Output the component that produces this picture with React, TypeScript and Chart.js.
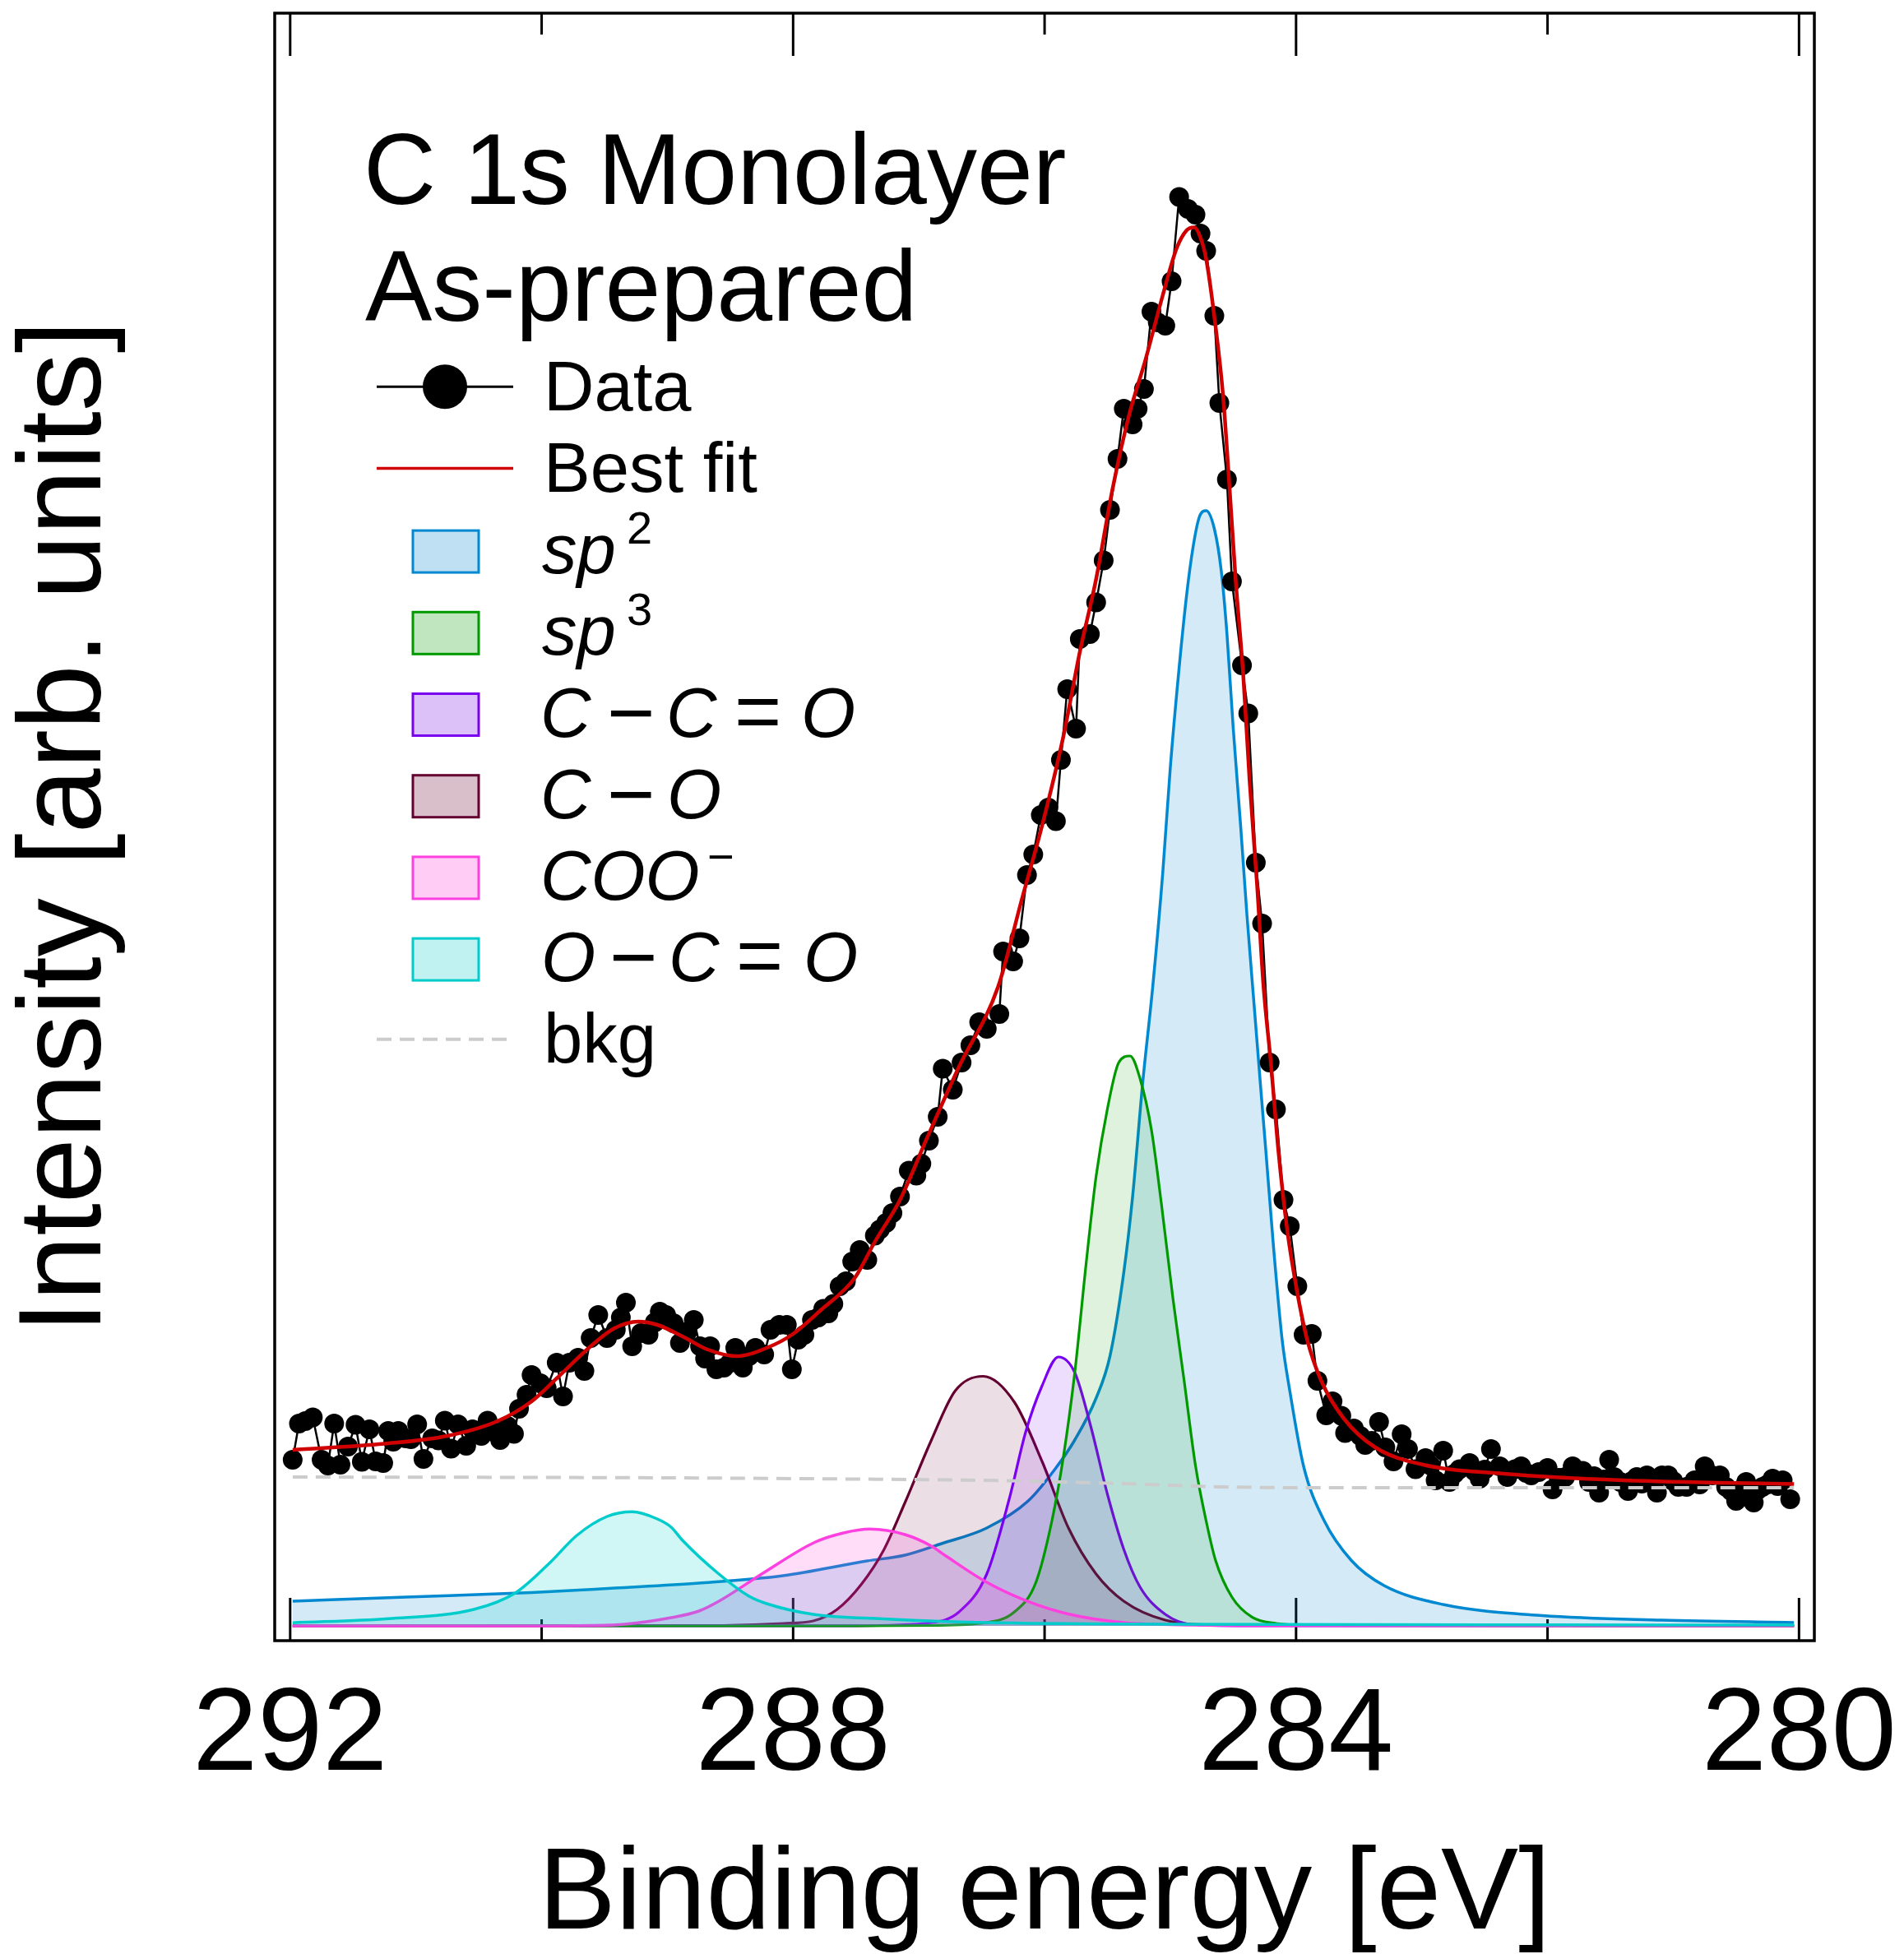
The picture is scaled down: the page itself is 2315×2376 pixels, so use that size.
import React, { useEffect, useRef } from 'react';
import { Chart, registerables } from 'chart.js';

Chart.register(...registerables);

const W = 2315;
const H = 2376;
const FONT = '"Liberation Sans", Arial, Helvetica, sans-serif';

// ---------- axes ----------
const X_TICKS = [280, 284, 288, 292];
const X_MINOR = [282, 286, 290];
const X_MIN = 279.878;
const X_MAX = 292.123;
const Y_MIN = -1.8;
const Y_MAX = 196.1;
const X_TITLE = 'Binding energy [eV]';
const Y_TITLE = 'Intensity [arb. units]';
const TITLE_LINES = ['C 1s Monolayer', 'As-prepared'];

// ---------- measured data (binding energy, intensity) ----------
const DATA_E = [
  291.98, 291.93, 291.88, 291.82, 291.75, 291.70, 291.65, 291.60, 291.54, 291.48,
  291.43, 291.37, 291.32, 291.26, 291.22, 291.18, 291.14, 291.08, 291.04, 290.99,
  290.94, 290.87, 290.82, 290.77, 290.72, 290.665, 290.60, 290.55, 290.48, 290.43,
  290.38, 290.33, 290.27, 290.22, 290.18, 290.12, 290.08, 290.01, 289.96, 289.88,
  289.83, 289.78, 289.71, 289.66, 289.61, 289.55, 289.48, 289.41, 289.37, 289.33,
  289.28, 289.21, 289.15, 289.10, 289.06, 289.01, 288.95, 288.90, 288.84, 288.79,
  288.74, 288.70, 288.66, 288.61, 288.55, 288.50, 288.46, 288.40, 288.35, 288.30,
  288.23, 288.18, 288.11, 288.05, 288.01, 287.96, 287.91, 287.85, 287.80, 287.76,
  287.72, 287.68, 287.63, 287.58, 287.53, 287.47, 287.41, 287.35, 287.31, 287.26,
  287.21, 287.15, 287.08, 287.02, 286.98, 286.92, 286.85, 286.81, 286.73, 286.66,
  286.59, 286.52, 286.46, 286.36, 286.33, 286.25, 286.20, 286.14, 286.09, 286.03,
  285.97, 285.91, 285.87, 285.82, 285.75, 285.72, 285.64, 285.59, 285.53, 285.48,
  285.42, 285.37, 285.30, 285.26, 285.21, 285.15, 285.10, 285.04, 284.99, 284.93,
  284.86, 284.80, 284.76, 284.715, 284.65, 284.61, 284.55, 284.51, 284.43, 284.38,
  284.32, 284.27, 284.21, 284.16, 284.10, 284.05, 283.99, 283.94, 283.875, 283.83,
  283.76, 283.71, 283.64, 283.61, 283.54, 283.49, 283.45, 283.40, 283.34, 283.29,
  283.225, 283.16, 283.11, 283.05, 282.97, 282.93, 282.89, 282.83, 282.78, 282.74,
  282.70, 282.62, 282.58, 282.54, 282.50, 282.45, 282.38, 282.32, 282.26, 282.21,
  282.17, 282.13, 282.07, 282.00, 281.96, 281.91, 281.86, 281.80, 281.72, 281.67,
  281.63, 281.59, 281.55, 281.51, 281.47, 281.42, 281.36, 281.33, 281.29, 281.25,
  281.21, 281.17, 281.13, 281.09, 281.04, 281.00, 280.96, 280.895, 280.83, 280.79,
  280.75, 280.69, 280.63, 280.58, 280.54, 280.50, 280.46, 280.42, 280.36, 280.33,
  280.29, 280.25, 280.21, 280.17, 280.13, 280.07,
];
const DATA_I = [
  20.2, 24.6, 24.9, 25.35, 20.2, 19.5, 24.6, 19.6, 21.8, 24.45,
  19.95, 23.9, 20.0, 19.8, 23.7, 22.4, 23.7, 22.8, 22.7, 24.5,
  20.3, 22.8, 22.55, 24.95, 21.55, 24.5, 21.9, 23.9, 23.1, 24.95,
  23.6, 22.6, 24.3, 23.35, 26.4, 28.1, 30.5, 29.5, 28.9, 32.0,
  27.9, 32.0, 32.6, 31.0, 35.0, 37.8, 35.0, 36.0, 37.5, 39.3,
  34.0, 35.6, 35.4, 36.9, 38.2, 37.8, 36.8, 34.4, 35.8, 37.2,
  34.0, 32.5, 34.0, 31.2, 31.4, 32.0, 33.8, 31.4, 32.8, 33.8,
  33.0, 36.0, 36.6, 36.6, 31.2, 34.8, 35.4, 37.2, 37.5, 38.55,
  38.0, 39.15, 41.3, 41.9, 44.3, 45.7, 44.5, 47.45, 48.2, 49.0,
  50.2, 52.2, 55.35, 54.75, 56.2, 59.0, 61.9, 67.75, 65.2, 68.5,
  70.6, 73.4, 72.6, 74.4, 82.0, 80.8, 83.6, 91.3, 93.8, 98.6,
  99.5, 97.85, 105.3, 113.9, 109.1, 120.0, 120.6, 124.45, 129.55, 135.7,
  141.9, 148.0, 146.1, 148.0, 150.4, 159.8, 158.5, 158.1, 163.5, 173.75,
  172.3, 171.6, 169.3, 167.2, 159.3, 148.7, 139.4, 127.0, 116.8, 110.95,
  92.8, 85.4, 68.5, 62.8, 51.8, 48.6, 41.3, 35.4, 35.5, 29.8,
  25.6, 27.3, 25.55, 23.45, 24.0, 23.1, 22.0, 22.5, 24.8, 21.7,
  20.0, 23.3, 21.5, 19.05, 20.4, 19.5, 17.7, 21.3, 17.5, 18.5,
  19.05, 19.8, 18.8, 17.9, 19.0, 21.5, 19.4, 18.1, 19.05, 19.4,
  18.6, 18.3, 18.7, 19.2, 16.6, 18.0, 18.1, 19.4, 18.85, 17.5,
  18.2, 16.2, 17.8, 20.2, 18.1, 17.5, 16.4, 17.6, 18.1, 17.3,
  18.3, 17.5, 16.2, 18.3, 18.3, 17.6, 16.9, 16.9, 17.7, 17.2,
  19.4, 18.3, 18.3, 16.9, 16.4, 15.2, 15.8, 17.5, 15.0, 16.5,
  16.9, 17.2, 17.9, 17.0, 17.7, 15.4,
];

// ---------- best fit ----------
const FIT_E = [
  291.98, 291.25, 290.75, 290.35, 290.08, 289.88, 289.61, 289.42, 289.23, 289.08,
  288.88, 288.68, 288.45, 288.21, 288.01, 287.78, 287.51, 287.35, 287.15, 286.93,
  286.68, 286.37, 286.18, 286.02, 285.85, 285.72, 285.59, 285.46, 285.33, 285.195,
  285.06, 284.95, 284.87, 284.81, 284.76, 284.715, 284.65, 284.58, 284.53, 284.48,
  284.42, 284.37, 284.31, 284.26, 284.20, 284.14, 284.07, 283.99, 283.91, 283.80,
  283.62, 283.37, 282.99, 282.35, 281.40, 280.04,
];
const FIT_I = [
  21.4, 22.15, 23.1, 24.9, 27.3, 30.1, 34.0, 36.2, 37.0, 36.6,
  35.2, 33.6, 32.8, 33.8, 35.4, 38.4, 42.3, 46.7, 51.8, 59.5,
  68.0, 77.7, 88.4, 97.3, 108.2, 118.4, 127.3, 138.2, 147.1, 154.1,
  161.8, 167.5, 169.7, 170.05, 168.8, 166.2, 159.2, 149.5, 138.6, 127.1,
  115.6, 102.9, 90.1, 78.0, 68.4, 57.7, 48.1, 40.5, 34.7, 29.8,
  25.2, 21.7, 19.6, 18.5, 17.7, 17.25,
];

// ---------- background ----------
const BKG_E = [291.98, 289.0, 287.5, 286.5, 286.0, 285.5, 285.0, 284.6, 284.2, 283.6, 280.04];
const BKG_I = [18.1, 18.0, 17.85, 17.7, 17.55, 17.35, 17.1, 16.9, 16.82, 16.8, 16.8];

// ---------- components ----------
const SP2_E = [
  291.98, 291.08, 290.08, 289.42, 288.75, 288.08, 287.41, 287.11, 286.82, 286.46,
  286.13, 285.92, 285.76, 285.59, 285.48, 285.37, 285.30, 285.22, 285.14, 285.06,
  285.00, 284.93, 284.87, 284.82, 284.77, 284.715, 284.65, 284.595, 284.55, 284.50,
  284.44, 284.39, 284.33, 284.28, 284.24, 284.18, 284.11, 284.05, 283.94, 283.78,
  283.56, 283.30, 282.83, 282.04, 281.09, 280.04,
];
const SP2_I = [
  3.0, 3.5, 4.05, 4.6, 5.2, 6.1, 7.9, 8.6, 10.0, 11.9,
  15.2, 19.0, 22.6, 27.7, 32.8, 43.0, 52.2, 66.0, 77.7, 91.6,
  104.4, 116.5, 125.4, 131.1, 134.8, 135.6, 133.4, 128.3, 120.7, 109.2,
  97.1, 86.3, 74.8, 65.2, 57.7, 46.2, 34.7, 28.6, 19.4, 12.9,
  7.95, 4.9, 2.6, 1.25, 0.7, 0.4,
];
const SP3_E = [
  291.98, 287.5, 286.9, 286.46, 286.24, 286.07, 285.94, 285.85, 285.76, 285.67,
  285.59, 285.50, 285.41, 285.32, 285.24, 285.15, 285.07, 284.98, 284.89, 284.80,
  284.71, 284.64, 284.51, 284.35, 284.16, 283.8, 280.04,
];
const SP3_I = [
  0, 0, 0.05, 0.4, 1.7, 5.25, 12.9, 20.6, 30.8, 44.0,
  54.7, 62.9, 68.5, 69.3, 66.5, 60.3, 51.2, 39.9, 29.8, 19.5,
  12.4, 7.95, 3.5, 1.06, 0.3, 0.05, 0,
];
const CCO_E = [291.98, 287.5, 286.9, 286.68, 286.46, 286.28, 286.15, 286.02, 285.89, 285.76, 285.63, 285.50, 285.37, 285.24, 285.04, 284.82, 284.3, 280.04];
const CCO_I = [0, 0.02, 0.4, 1.7, 6.3, 15.5, 23.6, 29.2, 32.7, 30.8, 24.1, 16.0, 9.3, 4.7, 1.4, 0.15, 0, 0];
const CO_E = [291.98, 288.6, 288.08, 287.84, 287.65, 287.46, 287.28, 287.11, 286.90, 286.71, 286.49, 286.24, 286.02, 285.81, 285.59, 285.37, 285.04, 284.6, 280.04];
const CO_I = [0, 0.05, 0.3, 0.6, 2.0, 5.0, 9.2, 15.0, 22.6, 28.6, 30.35, 27.2, 20.0, 11.9, 6.3, 3.0, 0.7, 0.1, 0];
const COO_E = [291.98, 290.2, 289.6, 289.34, 288.97, 288.75, 288.59, 288.23, 287.83, 287.60, 287.39, 287.11, 286.90, 286.785, 286.46, 286.13, 285.80, 285.37, 284.8, 284.0, 280.04];
const COO_I = [0, 0, 0.05, 0.2, 1.0, 1.8, 3.0, 6.5, 10.15, 11.3, 11.77, 11.1, 9.7, 8.5, 5.3, 2.96, 1.4, 0.4, 0.1, 0.02, 0];
const OCO_E = [291.98, 291.22, 290.54, 290.21, 289.94, 289.72, 289.48, 289.28, 289.08, 288.97, 288.88, 288.59, 288.35, 288.21, 287.84, 287.28, 286.46, 285.0, 282.0, 280.04];
const OCO_I = [0.38, 0.87, 2.0, 4.0, 7.6, 11.0, 13.3, 13.87, 13.0, 12.0, 10.4, 6.3, 3.6, 2.7, 1.4, 0.85, 0.4, 0.2, 0.12, 0.1];

const COMPONENT_NAMES = ['sp2', 'sp3', 'C−C=O', 'C−O', 'COO−', 'O−C=O'];

// styles
const COMP_STYLE = [
  { line: '#0088d0', fill: 'rgba(0,136,208,0.17)', legend: '#bfe0f2', w: 3.5 },
  { line: '#009a00', fill: 'rgba(0,154,0,0.13)', legend: '#bfe6bf', w: 3.2 },
  { line: '#7a00f0', fill: 'rgba(122,0,240,0.13)', legend: '#dbc1f7', w: 3.2 },
  { line: '#640030', fill: 'rgba(100,0,48,0.13)', legend: '#d8bfc9', w: 3.2 },
  { line: '#ff40e0', fill: 'rgba(255,64,224,0.18)', legend: '#ffccf5', w: 3.5 },
  { line: '#00cccc', fill: 'rgba(0,204,204,0.18)', legend: '#bff2f0', w: 3.5 },
];
const COMP_SERIES = [
  [SP2_E, SP2_I], [SP3_E, SP3_I], [CCO_E, CCO_I], [CO_E, CO_I], [COO_E, COO_I], [OCO_E, OCO_I],
];

type Part = { t: string; it?: boolean; sup?: boolean; size?: number; dx?: number; dy?: number };
const LEGEND_PARTS: Part[][] = [
  [{ t: 'Data' }],
  [{ t: 'Best fit' }],
  [{ t: 'sp', it: true, dx: -2 }, { t: '2', sup: true, dx: 101, dy: -36 }],
  [{ t: 'sp', it: true, dx: -2 }, { t: '3', sup: true, dx: 101, dy: -36 }],
  [{ t: 'C', it: true, dx: -4 }, { t: '−', size: 100, dx: 77, dy: 5 }, { t: 'C', it: true, dx: 149 }, { t: '=', size: 98, dx: 232, dy: 3 }, { t: 'O', it: true, dx: 313 }],
  [{ t: 'C', it: true, dx: -4 }, { t: '−', size: 100, dx: 77, dy: 5 }, { t: 'O', it: true, dx: 150 }],
  [{ t: 'COO', it: true, dx: -4 }, { t: '−', sup: true, dx: 199, dy: -33 }],
  [{ t: 'O', it: true, dx: -3 }, { t: '−', size: 100, dx: 80, dy: 5 }, { t: 'C', it: true, dx: 152 }, { t: '=', size: 98, dx: 234, dy: 3 }, { t: 'O', it: true, dx: 316 }],
  [{ t: 'bkg' }],
];

const pts = (e: number[], v: number[]) => e.map((x, i) => ({ x, y: v[i] }));

const decorPlugin = {
  id: 'decor',
  beforeDatasetsDraw(chart: any) {
    const { ctx, chartArea: a, scales } = chart;
    const x = scales.x;
    ctx.save();
    ctx.strokeStyle = '#000';
    ctx.lineWidth = 3;
    const tick = (v: number, len: number) => {
      const px = x.getPixelForValue(v);
      ctx.beginPath();
      ctx.moveTo(px, a.bottom);
      ctx.lineTo(px, a.bottom - len);
      ctx.moveTo(px, a.top);
      ctx.lineTo(px, a.top + len);
      ctx.stroke();
    };
    X_TICKS.forEach((v) => tick(v, 52));
    X_MINOR.forEach((v) => tick(v, 26));
    ctx.restore();
  },
  afterDatasetsDraw(chart: any) {
    const { ctx, chartArea: a } = chart;
    ctx.save();
    ctx.strokeStyle = '#000';
    ctx.lineWidth = 3.5;
    ctx.strokeRect(a.left, a.top, a.right - a.left, a.bottom - a.top);
    ctx.restore();
  },
  afterDraw(chart: any) {
    const { ctx } = chart;
    ctx.save();
    ctx.fillStyle = '#000';
    ctx.textAlign = 'left';
    ctx.textBaseline = 'alphabetic';
    // title lines
    ctx.font = `122px ${FONT}`;
    ctx.fillText(TITLE_LINES[0], 442, 248);
    ctx.fillText(TITLE_LINES[1], 444, 390);

    const baseline0 = 498.7;
    const step = 99.2;
    const textX = 661;
    const lineX0 = 458;
    const lineX1 = 624;
    for (let i = 0; i < LEGEND_PARTS.length; i++) {
      const b = baseline0 + i * step;
      const cy = b - 28.5;
      if (i === 0) {
        ctx.strokeStyle = '#000';
        ctx.lineWidth = 3;
        ctx.beginPath();
        ctx.moveTo(lineX0, cy);
        ctx.lineTo(lineX1, cy);
        ctx.stroke();
        ctx.beginPath();
        ctx.arc(541, cy, 27, 0, Math.PI * 2);
        ctx.fillStyle = '#000';
        ctx.fill();
      } else if (i === 1) {
        ctx.strokeStyle = '#d00000';
        ctx.lineWidth = 3.5;
        ctx.beginPath();
        ctx.moveTo(lineX0, cy);
        ctx.lineTo(lineX1, cy);
        ctx.stroke();
      } else if (i === LEGEND_PARTS.length - 1) {
        ctx.strokeStyle = '#cccccc';
        ctx.lineWidth = 4;
        ctx.setLineDash([18, 10]);
        ctx.beginPath();
        ctx.moveTo(lineX0, cy);
        ctx.lineTo(lineX1, cy);
        ctx.stroke();
        ctx.setLineDash([]);
      } else {
        const st = COMP_STYLE[i - 2];
        ctx.fillStyle = st.legend;
        ctx.fillRect(502, b - 52, 80, 51);
        ctx.strokeStyle = st.line;
        ctx.lineWidth = 3;
        ctx.strokeRect(502, b - 52, 80, 51);
      }
      ctx.fillStyle = '#000';
      for (const p of LEGEND_PARTS[i]) {
        const size = p.size || (p.sup ? 56 : 85);
        ctx.font = `${p.it ? 'italic ' : ''}${size}px ${FONT}`;
        ctx.fillText(p.t, textX + (p.dx || 0), b + (p.dy || 0));
      }
    }
    ctx.restore();
  },
};

export default function App() {
  const ref = useRef<HTMLCanvasElement>(null);
  useEffect(() => {
    document.body.style.margin = '0';
    const canvas = ref.current;
    if (!canvas) return;
    Chart.defaults.font.family = FONT;
    const compOrder = [5, 4, 1, 2, 3, 0]; // top-most first
    const compDatasets = compOrder.map((k) => ({
      label: COMPONENT_NAMES[k],
      data: pts(COMP_SERIES[k][0], COMP_SERIES[k][1]),
      borderColor: COMP_STYLE[k].line,
      backgroundColor: COMP_STYLE[k].fill,
      borderWidth: COMP_STYLE[k].w,
      pointRadius: 0,
      fill: 'origin',
      cubicInterpolationMode: 'monotone' as const,
    }));
    const chart = new Chart(canvas, {
      type: 'line',
      data: {
        datasets: [
          {
            label: 'Best fit',
            data: pts(FIT_E, FIT_I),
            borderColor: '#d00000',
            borderWidth: 4.5,
            pointRadius: 0,
            fill: false,
            cubicInterpolationMode: 'monotone',
          },
          {
            label: 'bkg',
            data: pts(BKG_E, BKG_I),
            borderColor: '#cccccc',
            borderWidth: 4,
            borderDash: [18, 10],
            pointRadius: 0,
            fill: false,
            cubicInterpolationMode: 'monotone',
          },
          {
            label: 'Data',
            data: pts(DATA_E, DATA_I),
            borderColor: '#000',
            borderWidth: 2.5,
            pointRadius: 12,
            pointBackgroundColor: '#000',
            pointBorderWidth: 0,
            tension: 0,
            fill: false,
          },
          ...compDatasets,
        ] as any,
      },
      options: {
        responsive: false,
        devicePixelRatio: 1,
        animation: false,
        events: [],
        layout: { padding: { top: 16, right: 109, left: 0, bottom: 0 } },
        plugins: { legend: { display: false }, tooltip: { enabled: false } },
        scales: {
          x: {
            type: 'linear',
            reverse: true,
            min: X_MIN,
            max: X_MAX,
            grid: { display: false, drawTicks: false },
            border: { display: false },
            afterBuildTicks: (s: any) => {
              s.ticks = X_TICKS.map((v) => ({ value: v }));
            },
            afterFit: (s: any) => {
              s.height = 381;
            },
            ticks: {
              color: '#000',
              font: { size: 142, family: FONT, lineHeight: 1 },
              padding: 47,
              maxRotation: 0,
              autoSkip: false,
              callback: (v: any) => String(v),
            },
            title: {
              display: true,
              text: X_TITLE,
              color: '#000',
              font: { size: 141, family: FONT, lineHeight: 0.9 },
              padding: { top: 0, bottom: 6 },
            },
          },
          y: {
            type: 'linear',
            min: Y_MIN,
            max: Y_MAX,
            grid: { display: false, drawTicks: false },
            border: { display: false },
            ticks: { display: false },
            afterFit: (s: any) => {
              s.width = 334;
            },
            title: {
              display: true,
              text: Y_TITLE,
              color: '#000',
              font: { size: 142, family: FONT, lineHeight: 1 },
              padding: { top: 12, bottom: 0 },
            },
          },
        },
      } as any,
      plugins: [decorPlugin],
    });
    return () => chart.destroy();
  }, []);
  return (
    <div style={{ width: W, height: H }}>
      <canvas ref={ref} width={W} height={H} style={{ display: 'block', width: W, height: H }} />
    </div>
  );
}
